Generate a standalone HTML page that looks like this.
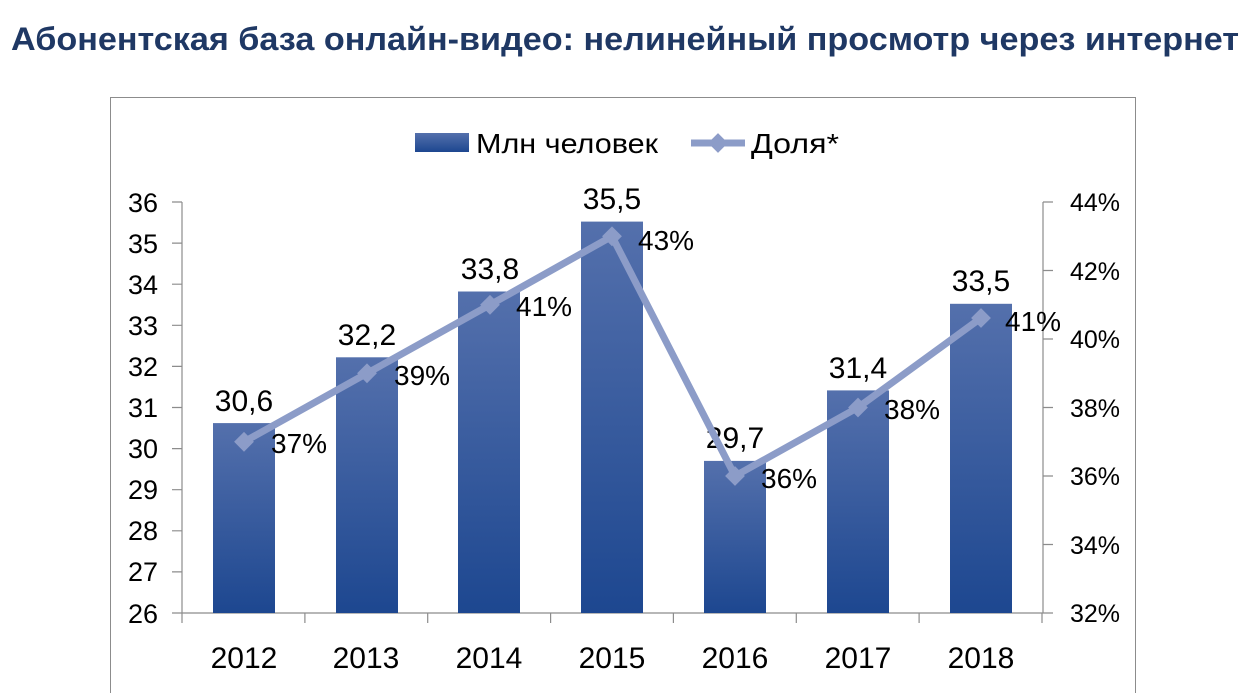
<!DOCTYPE html>
<html><head><meta charset="utf-8"><style>
html,body{margin:0;padding:0;background:#fff;width:1255px;height:693px;overflow:hidden}
svg{display:block}
text{font-family:"Liberation Sans","DejaVu Sans",sans-serif}
</style></head><body>
<svg width="1255" height="693" viewBox="0 0 1255 693" xmlns="http://www.w3.org/2000/svg">
<defs>
<linearGradient id="g" x1="0" y1="0" x2="0" y2="1">
<stop offset="0" stop-color="#5470ac"/><stop offset="1" stop-color="#1d4790"/>
</linearGradient>
</defs>
<text x="11" y="50" font-size="32" font-weight="bold" fill="#1f3864" textLength="1228" lengthAdjust="spacingAndGlyphs">Абонентская база онлайн-видео: нелинейный просмотр через интернет</text>
<rect x="110.5" y="97.5" width="1025" height="610" fill="none" stroke="#8c8c8c" stroke-width="1"/>
<!-- legend -->
<rect x="415" y="133" width="54" height="19" fill="url(#g)"/>
<text x="476" y="153" font-size="28" fill="#000" textLength="182" lengthAdjust="spacingAndGlyphs">Млн человек</text>
<line x1="691" y1="143" x2="745" y2="143" stroke="#8c9cc8" stroke-width="7"/>
<rect x="711" y="136" width="14" height="14" fill="#8c9cc8" transform="rotate(45 718 143)"/>
<text x="751" y="153" font-size="28" fill="#000" textLength="88" lengthAdjust="spacingAndGlyphs">Доля*</text>
<!-- axes -->
<g stroke="#8c8c8c" stroke-width="1.2" fill="none">
<line x1="182" y1="202" x2="182" y2="613"/>
<line x1="1043" y1="202" x2="1043" y2="613"/>
<line x1="172" y1="613" x2="1043" y2="613"/>
<path d="M172 202H182M172 243.1H182M172 284.2H182M172 325.3H182M172 366.4H182M172 407.5H182M172 448.6H182M172 489.7H182M172 530.8H182M172 571.9H182"/>
<path d="M1043 202H1053M1043 270.5H1053M1043 339H1053M1043 407.5H1053M1043 476H1053M1043 544.5H1053M1043 613H1053"/>
<path d="M182 613V623M304.9 613V623M427.7 613V623M550.6 613V623M673.4 613V623M796.3 613V623M919.1 613V623M1042 613V623"/>
</g>
<g font-size="27" fill="#000" text-anchor="end">
<text x="158" y="212">36</text><text x="158" y="253">35</text><text x="158" y="294">34</text><text x="158" y="335">33</text><text x="158" y="376">32</text><text x="158" y="417">31</text><text x="158" y="458">30</text><text x="158" y="499">29</text><text x="158" y="540">28</text><text x="158" y="581">27</text><text x="158" y="623">26</text>
</g>
<g font-size="25" fill="#000">
<text x="1070" y="211">44%</text><text x="1070" y="280">42%</text><text x="1070" y="348">40%</text><text x="1070" y="417">38%</text><text x="1070" y="485">36%</text><text x="1070" y="554">34%</text><text x="1070" y="622">32%</text>
</g>
<g font-size="30" fill="#000" text-anchor="middle">
<text x="244" y="668">2012</text><text x="366" y="668">2013</text><text x="489" y="668">2014</text><text x="612" y="668">2015</text><text x="735" y="668">2016</text><text x="858" y="668">2017</text><text x="981" y="668">2018</text>
</g>
<!-- bars -->
<g fill="url(#g)">
<rect x="213" y="423.1" width="62" height="189.9"/>
<rect x="336" y="357.3" width="62" height="255.7"/>
<rect x="458" y="291.5" width="62" height="321.5"/>
<rect x="581" y="221.6" width="62" height="391.4"/>
<rect x="704" y="460.9" width="62" height="152.1"/>
<rect x="827" y="390.4" width="62" height="222.6"/>
<rect x="950" y="303.8" width="62" height="309.2"/>
</g>
<g font-size="30" fill="#000" text-anchor="middle">
<text x="244" y="411">30,6</text><text x="367" y="345">32,2</text><text x="490" y="279">33,8</text><text x="612" y="209">35,5</text><text x="735" y="448">29,7</text><text x="858" y="378">31,4</text><text x="981" y="291">33,5</text>
</g>
<!-- line -->
<polyline points="244,441.8 367,373.3 490,304.8 612,236.3 735,476 858,407.5 981,318" fill="none" stroke="#8c9cc8" stroke-width="7" stroke-linejoin="round"/>
<g fill="#8c9cc8">
<rect x="237" y="434.8" width="14" height="14" transform="rotate(45 244 441.8)"/>
<rect x="360" y="366.3" width="14" height="14" transform="rotate(45 367 373.3)"/>
<rect x="483" y="297.8" width="14" height="14" transform="rotate(45 490 304.8)"/>
<rect x="605" y="229.3" width="14" height="14" transform="rotate(45 612 236.3)"/>
<rect x="728" y="469" width="14" height="14" transform="rotate(45 735 476)"/>
<rect x="851" y="400.5" width="14" height="14" transform="rotate(45 858 407.5)"/>
<rect x="974" y="311" width="14" height="14" transform="rotate(45 981 318)"/>
</g>
<g font-size="28" fill="#000">
<text x="271" y="453">37%</text><text x="394" y="385">39%</text><text x="516" y="316">41%</text><text x="638" y="250">43%</text><text x="761" y="488">36%</text><text x="884" y="419">38%</text><text x="1005" y="331">41%</text>
</g>
</svg>
</body></html>
